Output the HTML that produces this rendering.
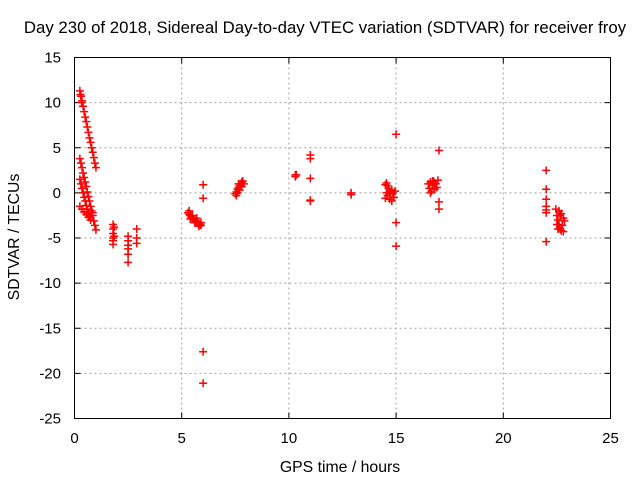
<!DOCTYPE html>
<html><head><meta charset="utf-8"><style>
body{margin:0;background:#fff}
svg text{font-family:"Liberation Sans",sans-serif;font-size:15px;fill:#000}
</style></head><body>
<svg id="chart" width="640" height="480">
<rect width="640" height="480" fill="#fff"/>
<text x="325" y="33" text-anchor="middle" style="font-size:16.8px">Day 230 of 2018, Sidereal Day-to-day VTEC variation (SDTVAR) for receiver froy</text>
<text x="340" y="472" text-anchor="middle" style="font-size:15.8px">GPS time / hours</text>
<text transform="translate(19,237) rotate(-90)" text-anchor="middle" style="font-size:15.8px">SDTVAR / TECUs</text>
<g id="grid"></g><g id="ticks"></g><g id="marks"></g>
<rect x="74.5" y="57.5" width="536" height="361" fill="none" stroke="#000"/>
</svg>
<script>
const xTicks=[0,5,10,15,20,25];
const yTicks=[15,10,5,0,-5,-10,-15,-20,-25];
const hours=[0.25,0.28,0.30,0.33,0.35,0.40,0.45,0.50,0.55,0.60,0.65,0.70,0.75,0.80,0.85,0.90,0.95,1.00,
0.25,0.30,0.35,0.40,0.45,0.50,0.55,0.60,0.65,0.70,0.75,0.80,0.85,0.90,0.95,1.00,
0.25,0.30,0.35,0.40,0.45,0.50,0.55,0.60,0.65,0.70,0.75,
0.25,0.35,0.45,0.55,0.65,0.75,0.85,
1.8,1.8,1.8,1.8,1.8,1.8,1.85,1.85,
2.5,2.5,2.5,2.5,2.5,2.5,2.9,2.9,2.9,
5.3,5.35,5.4,5.45,5.5,5.55,5.6,5.65,5.7,5.75,5.8,5.85,5.9,5.35,5.4,5.5,5.6,5.7,5.8,5.9,
6.0,6.0,6.0,6.0,
7.5,7.55,7.6,7.65,7.7,7.75,7.8,7.85,7.55,7.6,7.7,7.8,7.9,7.65,
10.3,10.3,10.35,11.0,11.0,11.0,11.0,11.0,12.9,12.9,
14.5,14.55,14.6,14.65,14.7,14.5,14.6,14.7,14.75,14.8,14.85,14.9,14.95,14.55,14.8,
15.0,15.0,15.0,
16.5,16.55,16.6,16.65,16.7,16.75,16.8,16.85,16.9,16.95,16.6,16.7,16.8,
17.0,17.0,17.0,
22.0,22.0,22.0,22.0,22.0,22.0,22.0,
22.45,22.5,22.55,22.6,22.65,22.7,22.8,22.5,22.6,22.7,22.8,22.85,22.75,22.55,22.65];
const values=[11.3,10.9,10.7,10.0,10.2,9.6,9.0,8.4,7.9,7.3,6.7,6.1,5.6,5.0,4.5,3.9,3.3,2.8,
3.8,3.3,2.8,2.2,1.7,1.2,0.7,0.1,-0.4,-0.9,-1.5,-2.0,-2.5,-3.1,-3.6,-4.1,
1.5,1.0,0.5,0.0,-0.5,-0.9,-1.4,-1.8,-2.2,-2.6,-3.0,
-1.5,-1.8,-2.1,-2.4,-2.7,-2.5,-2.2,
-3.5,-4.0,-4.5,-5.0,-5.3,-5.7,-3.8,-4.8,
-4.8,-5.3,-5.8,-6.2,-6.8,-7.7,-4.0,-5.0,-5.6,
-2.2,-2.4,-2.5,-2.7,-2.8,-2.9,-3.0,-3.1,-3.2,-3.3,-3.4,-3.5,-3.6,-2.0,-2.9,-2.5,-3.3,-2.8,-3.7,-3.3,
0.9,-0.6,-17.6,-21.1,
-0.1,0.1,0.4,0.6,0.8,1.0,1.2,1.3,-0.3,0.0,0.3,0.7,1.0,1.0,
2.0,1.8,2.0,4.2,3.8,1.6,-0.8,-0.9,0.0,-0.2,
0.9,1.1,0.8,0.5,0.2,-0.6,-0.3,-0.7,-0.1,0.3,0.0,-0.5,0.2,0.0,-0.9,
6.5,-3.3,-5.9,
1.0,0.5,1.2,0.2,0.8,1.3,0.4,1.0,0.6,1.4,0.0,1.3,1.1,
4.7,-1.0,-1.8,
2.5,0.4,-0.7,-1.5,-2.2,-5.4,-1.9,
-1.8,-2.5,-3.0,-3.5,-4.0,-4.2,-4.3,-3.5,-2.0,-2.3,-2.8,-3.1,-3.6,-4.0,-2.5];
const X0=74.5,X1=610.5,Y0=57.5,Y1=418.5;
function sx(v){return X0+(v-0)/(25-0)*(X1-X0);}
function sy(v){return Y0+(15-v)/(15-(-25))*(Y1-Y0);}
const NS='http://www.w3.org/2000/svg';
function mk(tag,attrs,parent){const e=document.createElementNS(NS,tag);for(const k in attrs)e.setAttribute(k,attrs[k]);document.getElementById(parent).appendChild(e);return e;}
xTicks.forEach(t=>{const x=sx(t);
 if(t>0&&t<25){const g=mk('line',{x1:x,x2:x,y1:Y0,y2:Y1,stroke:'#a0a0a0','stroke-dasharray':'2,3'},'grid');
 
 }
 mk('line',{x1:x,x2:x,y1:Y1,y2:Y1-6,stroke:'#000'},'ticks');
 mk('line',{x1:x,x2:x,y1:Y0,y2:Y0+6,stroke:'#000'},'ticks');
 const l=mk('text',{x:x,y:443,'text-anchor':'middle'},'ticks');l.textContent=t;
 
 });
yTicks.forEach(t=>{const y=sy(t);
 if(t<15&&t>-25){const g=mk('line',{x1:X0,x2:X1,y1:y,y2:y,stroke:'#a0a0a0','stroke-dasharray':'2,3'},'grid');
 
 }
 mk('line',{x1:X0,x2:X0+6,y1:y,y2:y,stroke:'#000'},'ticks');
 mk('line',{x1:X1,x2:X1-6,y1:y,y2:y,stroke:'#000'},'ticks');
 const l=mk('text',{x:61,y:y+5,'text-anchor':'end'},'ticks');l.textContent=t;
 
 });
hours.forEach((h,i)=>{const x=sx(h),y=sy(values[i]);
 const p=mk('path',{d:`M${x-4},${y}H${x+4}M${x},${y-4}V${y+4}`,stroke:'#f00','stroke-width':1.5},'marks');
 
 });
</script>
</body></html>
